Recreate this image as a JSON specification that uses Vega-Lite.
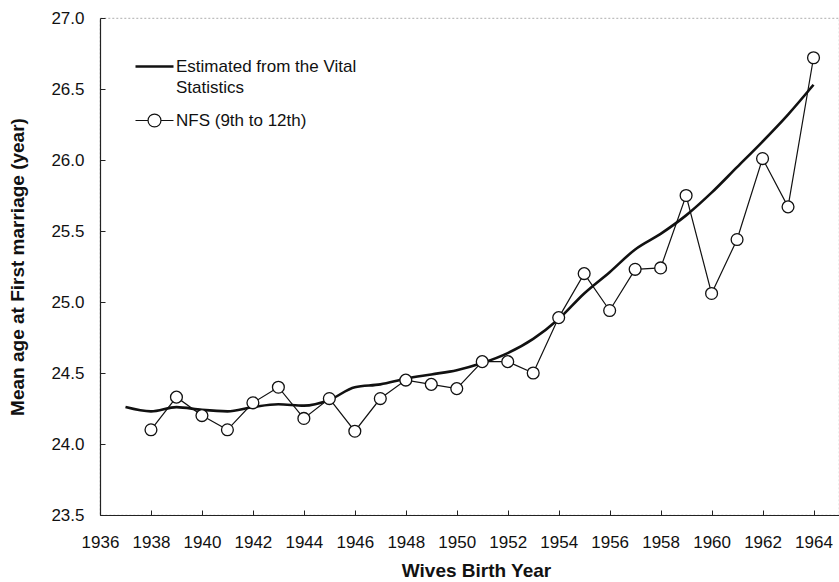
{
  "$schema": "https://vega.github.io/schema/vega-lite/v6.json",
  "width": 739,
  "height": 497,
  "autosize": "none",
  "padding": {"left": 100, "top": 18, "right": 0, "bottom": 67},
  "background": "white",
  "config": {
    "view": {"stroke": "#999", "strokeDash": [2, 2], "strokeWidth": 0.8},
    "axis": {
      "domainColor": "#222", "domainWidth": 1.2, "tickColor": "#222", "tickWidth": 1,
      "tickSize": -5, "grid": false,
      "labelFont": "Liberation Sans", "labelFontSize": 17, "labelColor": "#111",
      "titleFont": "Liberation Sans", "titleFontSize": 19, "titleFontWeight": "bold", "titleColor": "#111"
    },
    "legend": {"labelFont": "Liberation Sans", "labelFontSize": 17, "labelColor": "#111"}
  },
  "data": {"values": [
    {"year": 1937, "series": "Estimated from the Vital Statistics", "value": 24.26},
    {"year": 1938, "series": "Estimated from the Vital Statistics", "value": 24.23},
    {"year": 1939, "series": "Estimated from the Vital Statistics", "value": 24.26},
    {"year": 1940, "series": "Estimated from the Vital Statistics", "value": 24.24},
    {"year": 1941, "series": "Estimated from the Vital Statistics", "value": 24.23},
    {"year": 1942, "series": "Estimated from the Vital Statistics", "value": 24.26},
    {"year": 1943, "series": "Estimated from the Vital Statistics", "value": 24.28},
    {"year": 1944, "series": "Estimated from the Vital Statistics", "value": 24.27},
    {"year": 1945, "series": "Estimated from the Vital Statistics", "value": 24.31},
    {"year": 1946, "series": "Estimated from the Vital Statistics", "value": 24.40},
    {"year": 1947, "series": "Estimated from the Vital Statistics", "value": 24.42},
    {"year": 1948, "series": "Estimated from the Vital Statistics", "value": 24.46},
    {"year": 1949, "series": "Estimated from the Vital Statistics", "value": 24.49},
    {"year": 1950, "series": "Estimated from the Vital Statistics", "value": 24.52},
    {"year": 1951, "series": "Estimated from the Vital Statistics", "value": 24.57},
    {"year": 1952, "series": "Estimated from the Vital Statistics", "value": 24.64},
    {"year": 1953, "series": "Estimated from the Vital Statistics", "value": 24.74},
    {"year": 1954, "series": "Estimated from the Vital Statistics", "value": 24.88},
    {"year": 1955, "series": "Estimated from the Vital Statistics", "value": 25.06},
    {"year": 1956, "series": "Estimated from the Vital Statistics", "value": 25.21},
    {"year": 1957, "series": "Estimated from the Vital Statistics", "value": 25.37},
    {"year": 1958, "series": "Estimated from the Vital Statistics", "value": 25.48},
    {"year": 1959, "series": "Estimated from the Vital Statistics", "value": 25.61},
    {"year": 1960, "series": "Estimated from the Vital Statistics", "value": 25.77},
    {"year": 1961, "series": "Estimated from the Vital Statistics", "value": 25.95},
    {"year": 1962, "series": "Estimated from the Vital Statistics", "value": 26.13},
    {"year": 1963, "series": "Estimated from the Vital Statistics", "value": 26.32},
    {"year": 1964, "series": "Estimated from the Vital Statistics", "value": 26.53},
    {"year": 1938, "series": "NFS (9th to 12th)", "value": 24.10},
    {"year": 1939, "series": "NFS (9th to 12th)", "value": 24.33},
    {"year": 1940, "series": "NFS (9th to 12th)", "value": 24.20},
    {"year": 1941, "series": "NFS (9th to 12th)", "value": 24.10},
    {"year": 1942, "series": "NFS (9th to 12th)", "value": 24.29},
    {"year": 1943, "series": "NFS (9th to 12th)", "value": 24.40},
    {"year": 1944, "series": "NFS (9th to 12th)", "value": 24.18},
    {"year": 1945, "series": "NFS (9th to 12th)", "value": 24.32},
    {"year": 1946, "series": "NFS (9th to 12th)", "value": 24.09},
    {"year": 1947, "series": "NFS (9th to 12th)", "value": 24.32},
    {"year": 1948, "series": "NFS (9th to 12th)", "value": 24.45},
    {"year": 1949, "series": "NFS (9th to 12th)", "value": 24.42},
    {"year": 1950, "series": "NFS (9th to 12th)", "value": 24.39},
    {"year": 1951, "series": "NFS (9th to 12th)", "value": 24.58},
    {"year": 1952, "series": "NFS (9th to 12th)", "value": 24.58},
    {"year": 1953, "series": "NFS (9th to 12th)", "value": 24.50},
    {"year": 1954, "series": "NFS (9th to 12th)", "value": 24.89},
    {"year": 1955, "series": "NFS (9th to 12th)", "value": 25.20},
    {"year": 1956, "series": "NFS (9th to 12th)", "value": 24.94},
    {"year": 1957, "series": "NFS (9th to 12th)", "value": 25.23},
    {"year": 1958, "series": "NFS (9th to 12th)", "value": 25.24},
    {"year": 1959, "series": "NFS (9th to 12th)", "value": 25.75},
    {"year": 1960, "series": "NFS (9th to 12th)", "value": 25.06},
    {"year": 1961, "series": "NFS (9th to 12th)", "value": 25.44},
    {"year": 1962, "series": "NFS (9th to 12th)", "value": 26.01},
    {"year": 1963, "series": "NFS (9th to 12th)", "value": 25.67},
    {"year": 1964, "series": "NFS (9th to 12th)", "value": 26.72}
  ]},
  "encoding": {
    "x": {
      "field": "year", "type": "quantitative",
      "scale": {"domain": [1936, 1965], "nice": false, "zero": false},
      "axis": {
        "title": "Wives Birth Year", "values": [1936, 1938, 1940, 1942, 1944, 1946, 1948, 1950, 1952, 1954, 1956, 1958, 1960, 1962, 1964],
        "format": "d", "labelPadding": 24, "titlePadding": 11, "titleX": 376, "labelFlush": false, "labelOverlap": false
      }
    },
    "y": {
      "field": "value", "type": "quantitative",
      "scale": {"domain": [23.5, 27], "nice": false, "zero": false},
      "axis": {
        "title": "Mean age at First marriage (year)", "values": [23.5, 24, 24.5, 25, 25.5, 26, 26.5, 27],
        "format": ".1f", "labelPadding": 21, "titlePadding": 23, "labelFlush": false, "labelOverlap": false
      }
    }
  },
  "layer": [
    {
      "transform": [{"filter": "datum.series == 'Estimated from the Vital Statistics'"}],
      "mark": {"type": "line", "strokeWidth": 2.6, "interpolate": "monotone"},
      "encoding": {
        "color": {
          "field": "series", "type": "nominal",
          "scale": {"domain": ["Estimated from the Vital Statistics", "NFS (9th to 12th)"], "range": ["#111", "#111"]},
          "legend": {
            "title": null, "orient": "none", "legendX": 46, "legendY": 40, "padding": 0,
            "symbolSize": 1444, "labelOffset": 13, "labelLimit": 400, "rowPadding": 15,
            "labelExpr": "datum.label == 'Estimated from the Vital Statistics' ? ['Estimated from the Vital', 'Statistics'] : datum.label",
            "encode": {
              "labels": {"update": {"lineHeight": {"value": 21}}},
              "symbols": {"update": {
                "shape": {"signal": "datum.value == 'NFS (9th to 12th)' ? 'M-1,0H-0.34M0.34,0H1M-0.34,0A0.34,0.34 0 1,0 0.34,0A0.34,0.34 0 1,0 -0.34,0' : 'M-1,0H1'"},
                "fill": {"value": "white"},
                "stroke": {"value": "#111"},
                "strokeWidth": {"signal": "datum.value == 'NFS (9th to 12th)' ? 1.2 : 2.6"}
              }}
            }
          }
        }
      }
    },
    {
      "transform": [{"filter": "datum.series == 'NFS (9th to 12th)'"}],
      "mark": {"type": "line", "strokeWidth": 1.2},
      "encoding": {"color": {"field": "series", "type": "nominal"}}
    },
    {
      "transform": [{"filter": "datum.series == 'NFS (9th to 12th)'"}],
      "mark": {"type": "point", "shape": "circle", "filled": true, "fill": "white", "stroke": "#111", "strokeWidth": 1.3, "size": 140, "opacity": 1}
    }
  ]
}
